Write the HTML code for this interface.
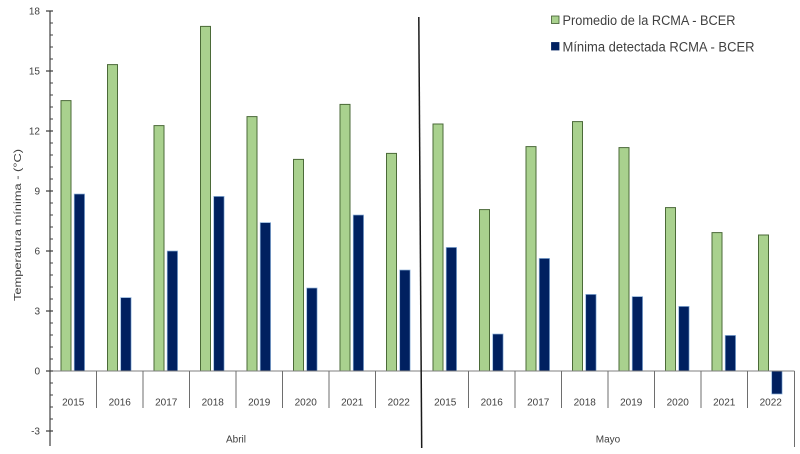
<!DOCTYPE html>
<html>
<head>
<meta charset="utf-8">
<style>
  html,body{margin:0;padding:0;background:#fff;}
  svg{display:block;}
  text{font-family:"Liberation Sans",Arial,sans-serif;fill:#404040;}
</style>
</head>
<body>
<svg width="800" height="454" viewBox="0 0 800 454" xmlns="http://www.w3.org/2000/svg">
  <rect x="0" y="0" width="800" height="454" fill="#ffffff"/>

  <!-- Green bars (Promedio) -->
  <g fill="#A9D18E" stroke="#4B6A38" stroke-width="1">
    <rect x="61" y="100.6" width="10" height="270.4"/>
    <rect x="107.5" y="64.6" width="10" height="306.4"/>
    <rect x="154" y="125.6" width="10" height="245.4"/>
    <rect x="200.5" y="26.4" width="10" height="344.6"/>
    <rect x="247" y="116.6" width="10" height="254.4"/>
    <rect x="293.5" y="159.4" width="10" height="211.6"/>
    <rect x="340" y="104.4" width="10" height="266.6"/>
    <rect x="386.5" y="153.4" width="10" height="217.6"/>
    <rect x="433" y="124" width="10" height="247"/>
    <rect x="479.5" y="209.6" width="10" height="161.4"/>
    <rect x="526" y="146.6" width="10" height="224.4"/>
    <rect x="572.5" y="121.6" width="10" height="249.4"/>
    <rect x="619" y="147.6" width="10" height="223.4"/>
    <rect x="665.5" y="207.6" width="10" height="163.4"/>
    <rect x="712" y="232.6" width="10" height="138.4"/>
    <rect x="758.5" y="235" width="10" height="136"/>
  </g>

  <!-- Blue bars (Mínima) -->
  <g fill="#002060" stroke="#8FB4DC" stroke-width="0.7">
    <rect x="74.2" y="194" width="10.4" height="177"/>
    <rect x="120.7" y="297.6" width="10.4" height="73.4"/>
    <rect x="167.2" y="251" width="10.4" height="120"/>
    <rect x="213.7" y="196.4" width="10.4" height="174.6"/>
    <rect x="260.2" y="222.6" width="10.4" height="148.4"/>
    <rect x="306.7" y="288" width="10.4" height="83"/>
    <rect x="353.2" y="215" width="10.4" height="156"/>
    <rect x="399.7" y="270" width="10.4" height="101"/>
    <rect x="446.2" y="247.4" width="10.4" height="123.6"/>
    <rect x="492.7" y="334" width="10.4" height="37"/>
    <rect x="539.2" y="258.4" width="10.4" height="112.6"/>
    <rect x="585.7" y="294.4" width="10.4" height="76.6"/>
    <rect x="632.2" y="296.6" width="10.4" height="74.4"/>
    <rect x="678.7" y="306.4" width="10.4" height="64.6"/>
    <rect x="725.2" y="335.4" width="10.4" height="35.6"/>
    <rect x="771.7" y="371" width="10.4" height="23"/>
  </g>

  <!-- X axis line -->
  <line x1="50" y1="371" x2="794.5" y2="371" stroke="#7F7F7F" stroke-width="1"/>

  <!-- Category separators -->
  <g stroke="#6E6E6E" stroke-width="1">
    <line x1="96.5" y1="371" x2="96.5" y2="408"/>
    <line x1="143" y1="371" x2="143" y2="408"/>
    <line x1="189.5" y1="371" x2="189.5" y2="408"/>
    <line x1="236" y1="371" x2="236" y2="408"/>
    <line x1="282.5" y1="371" x2="282.5" y2="408"/>
    <line x1="329" y1="371" x2="329" y2="408"/>
    <line x1="375.5" y1="371" x2="375.5" y2="408"/>
    <line x1="468.5" y1="371" x2="468.5" y2="408"/>
    <line x1="515" y1="371" x2="515" y2="408"/>
    <line x1="561.5" y1="371" x2="561.5" y2="408"/>
    <line x1="608" y1="371" x2="608" y2="408"/>
    <line x1="654.5" y1="371" x2="654.5" y2="408"/>
    <line x1="701" y1="371" x2="701" y2="408"/>
    <line x1="747.5" y1="371" x2="747.5" y2="408"/>
    <line x1="794.5" y1="371" x2="794.5" y2="447"/>
  </g>

  <!-- Y axis -->
  <line x1="50" y1="11" x2="50" y2="446" stroke="#404040" stroke-width="1.2"/>
  <path d="M50 11h3M50 23h3M50 35h3M50 47h3M50 59h3M50 71h3M50 83h3M50 95h3M50 107h3M50 119h3M50 131h3M50 143h3M50 155h3M50 167h3M50 179h3M50 191h3M50 203h3M50 215h3M50 227h3M50 239h3M50 251h3M50 263h3M50 275h3M50 287h3M50 299h3M50 311h3M50 323h3M50 335h3M50 347h3M50 359h3M50 371h3M50 383h3M50 395h3M50 407h3M50 419h3M50 431h3" stroke="#404040" stroke-width="1"/>
  <path d="M46 11h7M46 71h7M46 131h7M46 191h7M46 251h7M46 311h7M46 371h7M46 431h7" stroke="#404040" stroke-width="1.2"/>

  <!-- Y tick labels -->
  <g font-size="10" text-anchor="end">
    <text x="40" y="14.5">18</text>
    <text x="40" y="74.5">15</text>
    <text x="40" y="134.5">12</text>
    <text x="40" y="194.5">9</text>
    <text x="40" y="254.5">6</text>
    <text x="40" y="314.5">3</text>
    <text x="40" y="374.5">0</text>
    <text x="40" y="434.5">-3</text>
  </g>

  <!-- Y axis title -->
  <text x="0" y="0" font-size="10" text-anchor="middle" transform="translate(21,225) rotate(-90)" textLength="152" lengthAdjust="spacingAndGlyphs">Temperatura mínima - (°C)</text>

  <!-- Category labels -->
  <g font-size="10" text-anchor="middle">
    <text x="73.25" y="405.5">2015</text>
    <text x="119.75" y="405.5">2016</text>
    <text x="166.25" y="405.5">2017</text>
    <text x="212.75" y="405.5">2018</text>
    <text x="259.25" y="405.5">2019</text>
    <text x="305.75" y="405.5">2020</text>
    <text x="352.25" y="405.5">2021</text>
    <text x="398.75" y="405.5">2022</text>
    <text x="445.25" y="405.5">2015</text>
    <text x="491.75" y="405.5">2016</text>
    <text x="538.25" y="405.5">2017</text>
    <text x="584.75" y="405.5">2018</text>
    <text x="631.25" y="405.5">2019</text>
    <text x="677.75" y="405.5">2020</text>
    <text x="724.25" y="405.5">2021</text>
    <text x="770.75" y="405.5">2022</text>
    <text x="236" y="442.5">Abril</text>
    <text x="608" y="442.5">Mayo</text>
  </g>

  <!-- Divider line -->
  <line x1="418.8" y1="17" x2="421.7" y2="448" stroke="#1a1a1a" stroke-width="1.5"/>

  <!-- Legend -->
  <rect x="551.5" y="16" width="7.5" height="7.5" fill="#A9D18E" stroke="#3F5A2E" stroke-width="0.8"/>
  <text x="562.5" y="25" font-size="13.5" textLength="173" lengthAdjust="spacingAndGlyphs">Promedio de la RCMA - BCER</text>
  <rect x="551.5" y="42.5" width="7.5" height="7.5" fill="#002060" stroke="#002060" stroke-width="0.8"/>
  <text x="562.5" y="51.5" font-size="13.5" textLength="192" lengthAdjust="spacingAndGlyphs">Mínima detectada RCMA - BCER</text>
</svg>
</body>
</html>
